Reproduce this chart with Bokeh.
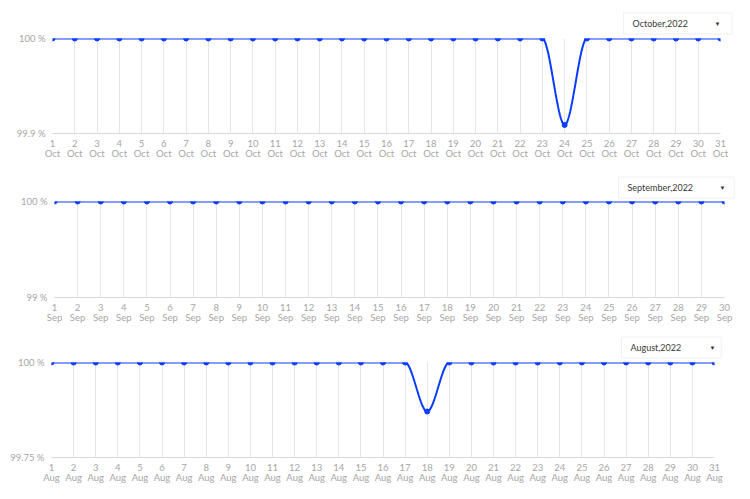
import numpy as np
from bokeh.plotting import figure
from bokeh.models import Range1d, FixedTicker, CustomJSTickFormatter, Label
from bokeh.embed import file_html
from bokeh.resources import INLINE

# ---------------- data ----------------
oct_days = list(range(1, 32))
oct_values = [100, 100, 100, 100, 100, 100, 100, 100, 100, 100,
              100, 100, 100, 100, 100, 100, 100, 100, 100, 100,
              100, 100, 100, 99.909, 100, 100, 100, 100, 100, 100, 100]
oct_month = "Oct"
oct_title = "October,2022"
oct_yticks = [99.9, 100]

sep_days = list(range(1, 31))
sep_values = [100, 100, 100, 100, 100, 100, 100, 100, 100, 100,
              100, 100, 100, 100, 100, 100, 100, 100, 100, 100,
              100, 100, 100, 100, 100, 100, 100, 100, 100, 100]
sep_month = "Sep"
sep_title = "September,2022"
sep_yticks = [99, 100]

aug_days = list(range(1, 32))
aug_values = [100, 100, 100, 100, 100, 100, 100, 100, 100, 100,
              100, 100, 100, 100, 100, 100, 100, 99.871, 100, 100,
              100, 100, 100, 100, 100, 100, 100, 100, 100, 100, 100]
aug_month = "Aug"
aug_title = "August,2022"
aug_yticks = [99.75, 100]

LINE = "#0a3cff"
GRID = "#e6e6e6"
TICK = "#a6a6a6"
FONT = "Lato"


def monotone_curve(xs, ys, n=24):
    """Monotone cubic (Fritsch-Carlson) rendering of the series line."""
    xs = np.asarray(xs, float)
    ys = np.asarray(ys, float)
    h = np.diff(xs)
    d = np.diff(ys) / h
    m = np.zeros_like(ys)
    m[0], m[-1] = d[0], d[-1]
    for k in range(1, len(ys) - 1):
        if d[k - 1] * d[k] <= 0:
            m[k] = 0.0
        else:
            m[k] = (d[k - 1] + d[k]) / 2
    for k in range(len(d)):
        if d[k] == 0:
            m[k] = 0.0
            m[k + 1] = 0.0
        else:
            a, b = m[k] / d[k], m[k + 1] / d[k]
            s = a * a + b * b
            if s > 9:
                t = 3 / np.sqrt(s)
                m[k] = t * a * d[k]
                m[k + 1] = t * b * d[k]
    px, py = [], []
    for k in range(len(d)):
        t = np.linspace(0, 1, n, endpoint=False)
        h00 = 2 * t**3 - 3 * t**2 + 1
        h10 = t**3 - 2 * t**2 + t
        h01 = -2 * t**3 + 3 * t**2
        h11 = t**3 - t**2
        px.extend(xs[k] + t * h[k])
        py.extend(h00 * ys[k] + h10 * h[k] * m[k] + h01 * ys[k + 1] + h11 * h[k] * m[k + 1])
    px.append(xs[-1])
    py.append(ys[-1])
    return px, py


def make_chart(days, values, month, title, yticks, height, bt, bb, bl, br,
               box_x, box_y, box_pad_r, caret_x, caret_dy):
    p = figure(width=750, height=height, output_backend="svg", toolbar_location=None,
               x_range=Range1d(days[0], days[-1]),
               y_range=Range1d(yticks[0], yticks[-1]),
               min_border_top=bt, min_border_bottom=bb,
               min_border_left=bl, min_border_right=br)
    p.outline_line_color = None
    p.background_fill_color = "white"
    p.border_fill_color = "white"

    # x axis
    p.xaxis.ticker = FixedTicker(ticks=days)
    p.xaxis.major_label_overrides = {d: f"{d}\n{month}" for d in days}
    p.xaxis.axis_line_color = "#d9d9d9"
    p.xaxis.major_tick_line_color = None
    p.xaxis.major_tick_out = 0
    p.xaxis.major_tick_in = 0
    p.xaxis.minor_tick_line_color = None
    p.xaxis.major_label_text_color = TICK
    p.xaxis.major_label_text_font = FONT
    p.xaxis.major_label_text_font_size = "9.5px"
    p.xaxis.major_label_text_line_height = 0.95
    p.xaxis.major_label_standoff = 4

    # y axis
    p.yaxis.ticker = FixedTicker(ticks=yticks)
    p.yaxis.formatter = CustomJSTickFormatter(code="return tick + ' %'")
    p.yaxis.axis_line_color = None
    p.yaxis.major_tick_line_color = None
    p.yaxis.major_tick_out = 0
    p.yaxis.major_tick_in = 0
    p.yaxis.minor_tick_line_color = None
    p.yaxis.major_label_text_color = TICK
    p.yaxis.major_label_text_font = FONT
    p.yaxis.major_label_text_font_size = "9.5px"
    p.yaxis.major_label_standoff = 7

    p.xgrid.grid_line_color = GRID
    p.ygrid.grid_line_color = GRID

    cx, cy = monotone_curve(days, values)
    p.line(cx, cy, line_color=LINE, line_width=2)
    p.scatter(days, values, size=5, fill_color=LINE, line_color=LINE)

    # dropdown (box + text), then its caret
    p.add_layout(Label(x=box_x, y=box_y, x_units="screen", y_units="screen",
                       text=title, text_font=FONT, text_font_size="9px",
                       text_color="#3a3a3a", text_baseline="middle",
                       background_fill_color="white",
                       border_line_color="#f0f0f0",
                       padding=dict(left=9, right=box_pad_r, top=5, bottom=5)), "above")
    p.add_layout(Label(x=caret_x, y=box_y - caret_dy, x_units="screen", y_units="screen",
                       text="▼", text_font_size="6px", text_color="#333333",
                       text_align="center", text_baseline="middle"), "above")
    return p


p1 = make_chart(oct_days, oct_values, oct_month, oct_title, oct_yticks,
                166, 38, 33, 52, 30, 571, 15, 44, 665, 21)
p2 = make_chart(sep_days, sep_values, sep_month, sep_title, sep_yticks,
                164, 35, 33, 54, 26, 564, 14, 41, 668, 21)
p3 = make_chart(aug_days, aug_values, aug_month, aug_title, aug_yticks,
                163, 32, 36, 51, 36, 570, 15, 40, 661, 21)

open("out.html", "w").write(file_html([p1, p2, p3], INLINE))
